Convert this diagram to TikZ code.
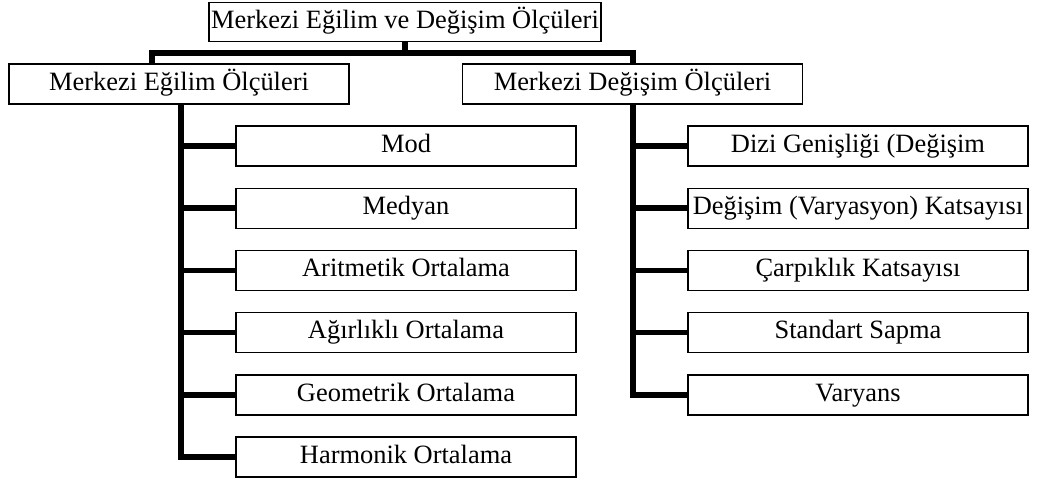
\documentclass[tikz,border=0pt]{standalone}
\usepackage{fontspec}
\setmainfont{Liberation Serif}
\usetikzlibrary{positioning}
\tikzset{
  box/.style={draw, line width=1pt, minimum height=1cm, inner xsep=1pt, inner ysep=2pt,
              text height=12.8pt, text depth=4.1pt,
              font=\fontsize{18.8}{22}\selectfont},
  rootbox/.style={box, minimum width=9.8cm, minimum height=0.97cm},
  groupbox/.style={box, minimum width=8.5cm},
  leafbox/.style={box, minimum width=8.5cm},
  link/.style={line width=4pt}
}

\begin{document}
\begin{tikzpicture}[x=0.025cm, y=-0.025cm, node distance=0.52cm]
\useasboundingbox (0,0) rectangle (1040,484);
\node[rootbox] (root) at (405,22) {Merkezi Eğilim ve Değişim Ölçüleri};
\node[groupbox] (egilim) at (179,84) {Merkezi Eğilim Ölçüleri};
\node[groupbox] (degisim) at (632.5,84) {Merkezi Değişim Ölçüleri};
% sol kol
\node[leafbox] (mod) at (406,146) {Mod};
\node[leafbox, below=of mod] (medyan) {Medyan};
\node[leafbox, below=of medyan] (aritmetik) {Aritmetik Ortalama};
\node[leafbox, below=of aritmetik] (agirlikli) {Ağırlıklı Ortalama};
\node[leafbox, below=of agirlikli] (geometrik) {Geometrik Ortalama};
\node[leafbox, below=of geometrik] (harmonik) {Harmonik Ortalama};
% sag kol
\node[leafbox] (dizi) at (858,146) {Dizi Genişliği (Değişim};
\node[leafbox, below=of dizi] (varyasyon) {Değişim (Varyasyon) Katsayısı};
\node[leafbox, below=of varyasyon] (carpiklik) {Çarpıklık Katsayısı};
\node[leafbox, below=of carpiklik] (sapma) {Standart Sapma};
\node[leafbox, below=of sapma] (varyans) {Varyans};
% baglantilar
\coordinate (barL) at (152,53);
\coordinate (barR) at (633,53);
\coordinate (spineL) at (181,0);
\draw[link] (root.south) -- (root.south |- barL);
\draw[link] (barL |- egilim.north) -- (barL) -- (barR) -- (barR |- degisim.north);
\draw[link] (spineL |- egilim.south) |- (harmonik.west);
\foreach \leaf in {mod,medyan,aritmetik,agirlikli,geometrik}
  \draw[link] (spineL |- \leaf.west) -- (\leaf.west);
\draw[link] (barR |- degisim.south) |- (varyans.west);
\foreach \leaf in {dizi,varyasyon,carpiklik,sapma}
  \draw[link] (barR |- \leaf.west) -- (\leaf.west);
\end{tikzpicture}
\end{document}
